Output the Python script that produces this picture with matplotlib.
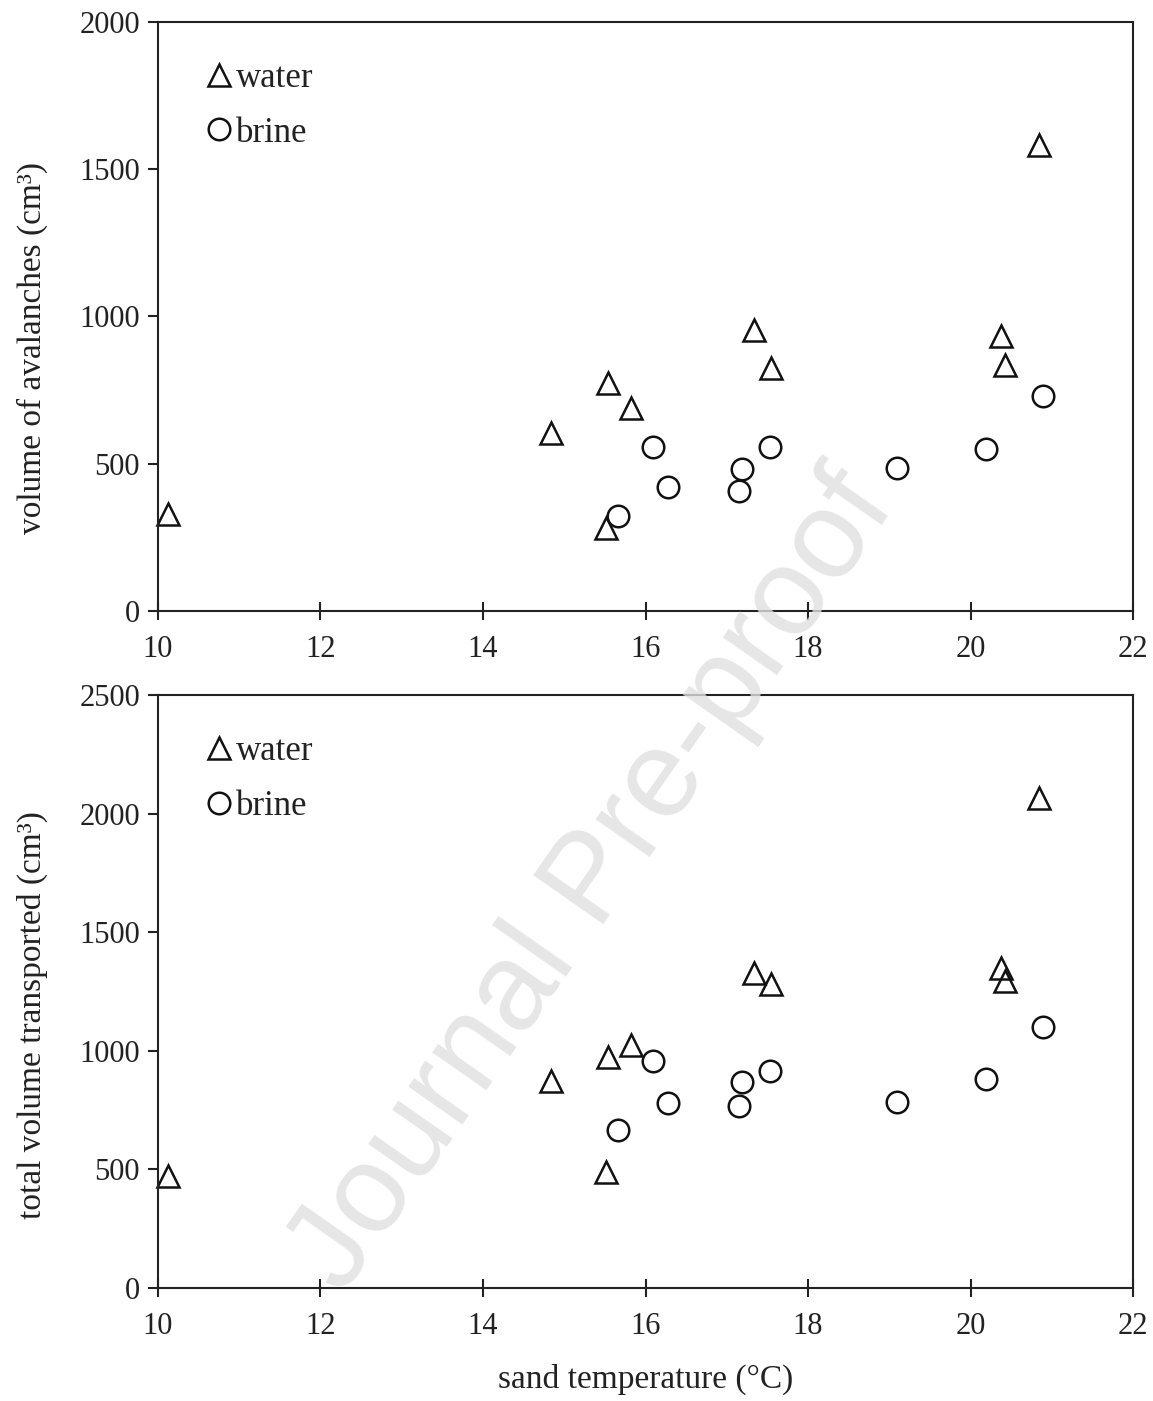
import matplotlib
matplotlib.use("Agg")
import matplotlib.pyplot as plt

# ---- data ----
water_T = [10.12, 14.84, 15.54, 15.82, 15.51, 17.34, 17.55, 20.84, 20.38, 20.43]
water_aval = [329, 604, 774, 689, 282, 954, 825, 1582, 934, 835]
water_total = [472, 873, 974, 1024, 489, 1328, 1282, 2066, 1349, 1294]

brine_T = [15.66, 16.09, 16.28, 17.19, 17.15, 17.53, 19.10, 20.19, 20.89]
brine_aval = [323, 557, 421, 482, 407, 557, 486, 550, 730]
brine_total = [666, 957, 780, 868, 767, 915, 784, 881, 1100]

x_ticks = [10, 12, 14, 16, 18, 20, 22]
top_yticks = [0, 500, 1000, 1500, 2000]
bot_yticks = [0, 500, 1000, 1500, 2000, 2500]

plt.rcParams['font.family'] = ['Liberation Serif', 'DejaVu Serif']

fig = plt.figure(figsize=(11.53, 14.01), dpi=100)
ax1 = fig.add_axes([0.137, 0.5639, 0.8457, 0.4204])
ax2 = fig.add_axes([0.137, 0.0807, 0.8457, 0.4232])

ms = 15.5
mew = 1.8

def style(ax, wy, by, yticks, ylabel, label_y):
    ax.plot(water_T, wy, linestyle='none', marker='^', ms=ms,
            mfc='none', mec='#111111', mew=mew, label='water', clip_on=False)
    ax.plot(brine_T, by, linestyle='none', marker='o', ms=ms,
            mfc='none', mec='#111111', mew=mew, label='brine', clip_on=False)
    ax.set_xlim(10, 22)
    ax.set_ylim(yticks[0], yticks[-1])
    ax.set_xticks(x_ticks)
    ax.set_yticks(yticks)
    ax.tick_params(axis='x', direction='inout', length=13, width=1.5,
                   labelsize=22, pad=11, colors='#222222', labelcolor='#222222')
    ax.tick_params(axis='y', direction='out', length=7, width=1.5,
                   labelsize=22, pad=6, colors='#222222', labelcolor='#222222')
    for s in ax.spines.values():
        s.set_linewidth(1.5)
        s.set_color('#222222')
    ax.set_ylabel(ylabel, fontsize=24, color='#222222')
    ax.yaxis.set_label_coords(-0.113, label_y)
    ax.legend(loc='upper left', bbox_to_anchor=(0.018, 0.985), frameon=False,
              fontsize=25, handlelength=0.7, handletextpad=0.15,
              labelspacing=0.62, markerscale=1.0, labelcolor='#222222')

style(ax1, water_aval, brine_aval, top_yticks, 'volume of avalanches (cm³)', 0.447)
style(ax2, water_total, brine_total, bot_yticks, 'total volume transported (cm³)', 0.46)
ax2.set_xlabel('sand temperature (°C)', fontsize=24, labelpad=16, color='#222222')

# watermark
fig.text(0.515, 0.37, 'Journal Pre-proof', fontsize=90, rotation=55,
         ha='center', va='center', color='#e0e0e0', alpha=0.8,
         family=['Liberation Sans', 'DejaVu Sans'], zorder=10)

fig.savefig('out.png', dpi=100)
